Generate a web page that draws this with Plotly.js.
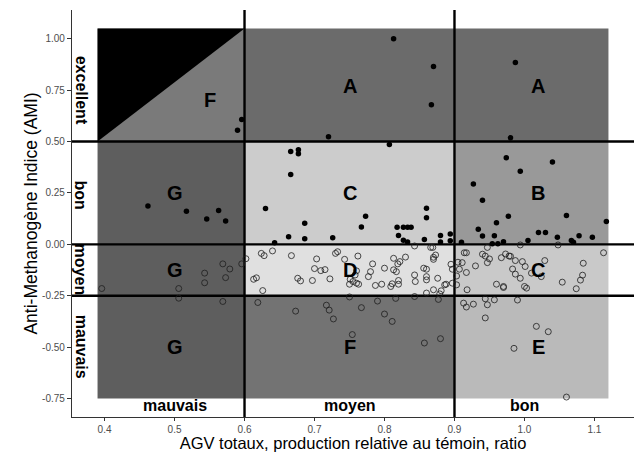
<!DOCTYPE html>
<html>
<head>
<meta charset="utf-8">
<script src="https://cdn.plot.ly/plotly-3.0.1.min.js"></script>
<style>html,body{margin:0;padding:0;background:#fff;}#chart{width:636px;height:452px;}</style>
</head>
<body>
<div id="chart"></div>
<script>
// Points with positive AMI (filled)
var posX = [0.596,0.590,
  0.813,0.870,0.867,0.720,0.987,0.980,
  0.807,0.666,0.677,0.677,0.666,0.630,0.773,0.860,0.860,0.686,0.767,0.818,0.827,0.833,0.838,0.663,0.686,0.726,0.643,0.820,0.827,0.833,0.857,0.880,0.880,0.894,0.894,
  0.462,0.517,0.546,0.563,0.573,
  0.974,1.040,0.994,0.927,0.940,0.977,1.060,1.117,0.960,0.934,0.940,0.957,1.020,1.030,1.047,1.078,1.097,1.067,1.005,0.970,0.910,0.954,0.962,1.070];
var posY = [0.607,0.555,
  1.000,0.865,0.679,0.523,0.884,0.518,
  0.486,0.452,0.460,0.441,0.340,0.174,0.137,0.176,0.129,0.103,0.084,0.083,0.083,0.083,0.083,0.037,0.027,0.032,0.008,0.043,0.020,0.011,0.024,0.043,0.011,0.050,0.018,
  0.187,0.161,0.123,0.165,0.114,
  0.421,0.400,0.355,0.293,0.215,0.137,0.140,0.111,0.105,0.073,0.040,0.042,0.058,0.058,0.034,0.042,0.034,0.019,0.019,0.013,0.010,0.003,0.003,0.010];

// Points with negative AMI (open)
var negX = [0.396,0.506,0.506,0.543,0.543,0.569,0.579,0.573,0.596,0.602,0.569,
  0.624,0.628,0.640,0.667,0.703,0.700,0.613,0.617,0.626,0.676,0.680,0.697,0.709,0.715,0.722,0.730,0.733,0.743,0.762,0.750,0.755,0.760,0.751,0.760,0.758,0.763,0.783,0.777,0.780,0.787,0.796,0.800,0.813,0.819,0.822,0.830,0.813,0.817,0.809,0.820,0.820,0.811,0.843,0.866,0.869,0.843,0.844,0.856,0.860,0.860,0.860,0.870,0.873,0.870,0.876,0.888,0.860,0.870,0.879,0.881,0.886,0.895,0.897,0.897,
  0.619,0.673,0.717,0.721,0.727,0.750,0.767,0.790,0.800,0.811,0.816,0.754,0.857,0.880,0.843,0.877,
  0.914,0.917,0.947,0.994,1.048,0.940,0.944,0.950,0.947,0.967,0.973,0.978,0.980,0.987,0.997,1.001,1.029,0.930,0.911,0.907,0.917,0.903,0.983,0.987,0.994,1.010,1.024,0.960,0.970,0.970,1.000,1.003,0.903,0.918,1.054,1.074,1.080,1.083,1.084,1.113,0.905,
  0.913,0.917,0.927,0.944,0.947,0.957,0.990,0.944,1.017,1.034,0.985,1.060];
var negY = [-0.215,-0.215,-0.262,-0.140,-0.187,-0.095,-0.120,-0.162,-0.095,-0.070,-0.278,
  -0.044,-0.055,-0.032,-0.055,-0.071,-0.118,-0.170,-0.163,-0.225,-0.165,-0.178,-0.176,-0.128,-0.123,-0.168,-0.044,-0.036,-0.073,-0.057,-0.194,-0.181,-0.189,-0.170,-0.129,-0.149,-0.194,-0.095,-0.157,-0.133,-0.200,-0.194,-0.116,-0.068,-0.095,-0.084,-0.062,-0.124,-0.133,-0.205,-0.176,-0.194,-0.192,-0.008,-0.015,-0.015,-0.149,-0.181,-0.116,-0.121,-0.157,-0.173,-0.063,-0.052,-0.073,-0.165,-0.194,-0.237,-0.221,-0.241,-0.226,-0.197,-0.097,-0.121,-0.189,
  -0.283,-0.325,-0.296,-0.320,-0.363,-0.256,-0.308,-0.276,-0.339,-0.375,-0.263,-0.439,-0.480,-0.459,-0.254,-0.268,
  -0.041,-0.041,-0.015,-0.003,-0.003,-0.048,-0.057,-0.071,-0.089,-0.065,-0.047,-0.057,-0.058,-0.079,-0.084,-0.108,-0.079,-0.105,-0.089,-0.121,-0.137,-0.154,-0.120,-0.145,-0.165,-0.140,-0.157,-0.194,-0.205,-0.210,-0.205,-0.213,-0.197,-0.221,-0.184,-0.216,-0.174,-0.150,-0.092,-0.041,-0.087,
  -0.286,-0.305,-0.291,-0.265,-0.294,-0.270,-0.271,-0.358,-0.399,-0.425,-0.506,-0.743];

// Zones (rectangles)
var zoneX0 = [0.39, 0.6, 0.9, 0.39, 0.6, 0.9, 0.6, 0.9, 0.6, 0.9];
var zoneX1 = [0.6, 0.9, 1.12, 0.6, 0.9, 1.12, 0.9, 1.12, 0.9, 1.12];
var zoneY0 = [0.5, 0.5, 0.5, -0.75, 0, 0, -0.25, -0.25, -0.75, -0.75];
var zoneY1 = [1.05, 1.05, 1.05, 0.5, 0.5, 0.5, 0, 0, -0.25, -0.25];
var zoneFill = ['#7a7a7a','#6b6b6b','#6b6b6b','#5e5e5e','#cccccc','#999999','#e0e0e0','#c9c9c9','#737373','#bababa'];

// Zone letters
var letterText = ['F','A','A','G','C','B','G','D','C','G','F','E'];
var letterX = [0.55, 0.75, 1.02, 0.5, 0.75, 1.02, 0.5, 0.75, 1.02, 0.5, 0.75, 1.02];
var letterY = [0.70, 0.77, 0.77, 0.25, 0.25, 0.25, -0.125, -0.125, -0.125, -0.5, -0.5, -0.5];

// Side and bottom category labels
var sideText = ['excellent','bon','moyen','mauvais'];
var sideY = [0.75, 0.24, -0.125, -0.5];
var bottomText = ['mauvais','moyen','bon'];
var bottomX = [0.5, 0.75, 1.0];

var vLines = [0.6, 0.9];
var hLines = [0.5, 0, -0.25];

var xRange = [0.3535, 1.1565];
var yRange = [-0.84, 1.14];
var xTicks = [0.4,0.5,0.6,0.7,0.8,0.9,1.0,1.1];
var xTickText = ['0.4','0.5','0.6','0.7','0.8','0.9','1.0','1.1'];
var yTicks = [-0.75,-0.5,-0.25,0,0.25,0.5,0.75,1.0];
var yTickText = ['-0.75','-0.50','-0.25','0.00','0.25','0.50','0.75','1.00'];

var shapes = [];
for (var i = 0; i < zoneX0.length; i++) {
  shapes.push({type:'rect', xref:'x', yref:'y', x0:zoneX0[i], x1:zoneX1[i], y0:zoneY0[i], y1:zoneY1[i],
    fillcolor:zoneFill[i], line:{width:0}, layer:'below'});
}
shapes.push({type:'path', xref:'x', yref:'y', path:'M 0.39 0.5 L 0.39 1.05 L 0.6 1.05 Z', fillcolor:'#000000', line:{width:0}, layer:'below'});
vLines.forEach(function(v){
  shapes.push({type:'line', xref:'x', yref:'y', x0:v, x1:v, y0:yRange[0], y1:yRange[1], line:{color:'#000', width:2.4}, layer:'below'});
});
hLines.forEach(function(h){
  shapes.push({type:'line', xref:'x', yref:'y', x0:xRange[0], x1:xRange[1], y0:h, y1:h, line:{color:'#000', width:2.4}, layer:'below'});
});

var FONT = 'Liberation Sans, Arial, sans-serif';
var annotations = [];
for (var j = 0; j < letterText.length; j++) {
  annotations.push({x:letterX[j], y:letterY[j], xref:'x', yref:'y', text:letterText[j], showarrow:false,
    font:{family:FONT, size:20, color:'#000', weight:'bold'}});
}
for (var k = 0; k < sideText.length; k++) {
  annotations.push({x:0.367, y:sideY[k], xref:'x', yref:'y', text:sideText[k], showarrow:false, textangle:90,
    font:{family:FONT, size:16, color:'#000', weight:'bold'}});
}
for (var m = 0; m < bottomText.length; m++) {
  annotations.push({x:bottomX[m], y:-0.785, xref:'x', yref:'y', text:bottomText[m], showarrow:false,
    font:{family:FONT, size:16, color:'#000', weight:'bold'}});
}

var traces = [
  {type:'scatter', mode:'markers', x:posX, y:posY, hoverinfo:'skip',
    marker:{symbol:'circle', size:5.5, color:'#000'}},
  {type:'scatter', mode:'markers', x:negX, y:negY, hoverinfo:'skip',
    marker:{symbol:'circle-open', size:6, color:'rgba(30,30,30,0.8)', line:{width:1}}}
];

var layout = {
  width:636, height:452,
  margin:{l:72, r:2, t:10, b:35},
  paper_bgcolor:'#fff', plot_bgcolor:'#fff',
  showlegend:false,
  font:{family:FONT},
  xaxis:{range:xRange, showgrid:false, zeroline:false, showline:true, linecolor:'#333', linewidth:1.1,
    ticks:'outside', ticklen:3, tickcolor:'#333', tickvals:xTicks, ticktext:xTickText,
    tickfont:{family:FONT, size:10, color:'#4d4d4d'},
    title:{text:'AGV totaux, production relative au témoin, ratio', font:{family:FONT, size:16.5, color:'#000'}, standoff:10}},
  yaxis:{range:yRange, showgrid:false, zeroline:false, showline:true, linecolor:'#333', linewidth:1.1,
    ticks:'outside', ticklen:4, tickcolor:'#333', tickvals:yTicks, ticktext:yTickText,
    tickfont:{family:FONT, size:10, color:'#4d4d4d'},
    title:{text:'Anti-Methanogène Indice (AMI)', font:{family:FONT, size:17.5, color:'#000'}, standoff:0}},
  shapes:shapes,
  annotations:annotations
};

Plotly.newPlot('chart', traces, layout, {displayModeBar:false, staticPlot:true});
</script>
</body>
</html>
